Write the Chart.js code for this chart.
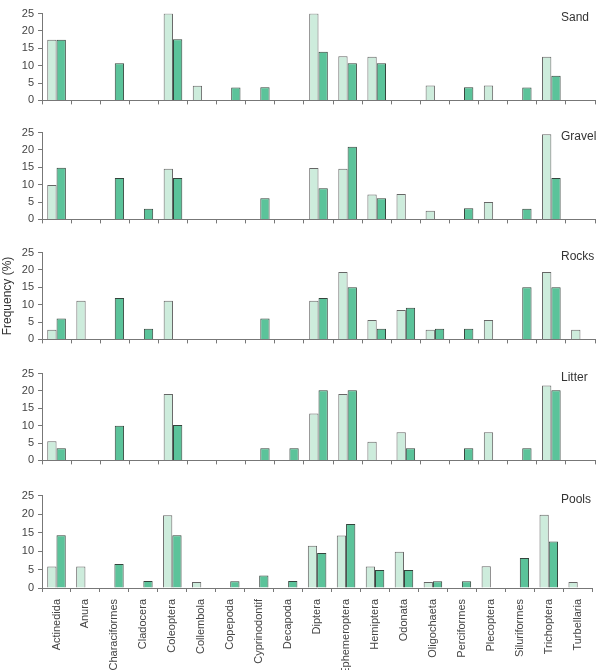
<!DOCTYPE html>
<html>
<head>
<meta charset="utf-8">
<script src="https://cdn.jsdelivr.net/npm/chart.js@4.4.1/dist/chart.umd.min.js"></script>
<style>
  body { margin: 0; background: #fff; }
  #wrap { position: relative; width: 598px; height: 670px; overflow: hidden; }
  .panel { position: absolute; left: 0; }
</style>
</head>
<body>
<div id="wrap"></div>
<script>
// Taxa on the x axis
const taxa = ['Actinedida', 'Anura', 'Characiformes', 'Cladocera', 'Coleoptera', 'Collembola',
  'Copepoda', 'Cyprinodontif', 'Decapoda', 'Diptera', 'Ephemeroptera', 'Hemiptera', 'Odonata',
  'Oligochaeta', 'Perciformes', 'Plecoptera', 'Siluriformes', 'Trichoptera', 'Turbellaria'];

const yTicks = [0, 5, 10, 15, 20, 25];
const habitats = ['Sand', 'Gravel', 'Rocks', 'Litter', 'Pools'];

// Frequency (%) per habitat, light and dark series
const sandLight   = [17.5, null, null, null, 25, 4.2, null, null, null, 25, 12.7, 12.6, null, 4.3, null, 4.3, null, 12.6, null];
const sandDark    = [17.5, null, 10.7, null, 17.6, null, 3.7, 3.8, null, 14, 10.7, 10.7, null, null, 3.8, null, 3.7, 7.1, null];
const gravelLight = [9.9, null, null, null, 14.6, null, null, null, null, 14.8, 14.6, 7.2, 7.3, 2.5, null, 5.0, null, 24.5, null];
const gravelDark  = [14.9, null, 11.9, 3.1, 11.9, null, null, 6.1, null, 9.0, 20.9, 6.1, null, null, 3.2, null, 3.1, 11.9, null];
const rocksLight  = [2.8, 11.1, null, null, 11.1, null, null, null, null, 11.1, 19.4, 5.6, 8.5, 2.8, null, 5.6, null, 19.4, 2.8];
const rocksDark   = [6.0, null, 11.9, 3.1, null, null, null, 6.0, null, 11.9, 15.0, 3.1, 9.1, 3.1, 3.1, null, 15.0, 15.0, null];
const litterLight = [5.5, null, null, null, 19.1, null, null, null, null, 13.5, 19.1, 5.4, 8.1, null, null, 8.1, null, 21.6, null];
const litterDark  = [3.5, null, 10.0, null, 10.2, null, null, 3.5, 3.5, 20.2, 20.2, null, 3.5, null, 3.5, null, 3.5, 20.2, null];
const poolsLight  = [5.8, 5.8, null, null, 19.7, 1.6, null, null, null, 11.4, 14.2, 5.8, 9.8, 1.6, null, 5.9, null, 19.8, 1.6];
const poolsDark   = [14.3, null, 6.5, 1.9, 14.3, null, 1.8, 3.4, 1.9, 9.5, 17.3, 4.9, 4.9, 1.8, 1.8, null, 8.1, 12.6, null];

const lightSeries = [sandLight, gravelLight, rocksLight, litterLight, poolsLight];
const darkSeries = [sandDark, gravelDark, rocksDark, litterDark, poolsDark];

const FONT = '"Liberation Sans", Arial, sans-serif';
const plotTops = [13, 132, 252, 373, 495];
const plotH = 93;
const padTop = 10;

// habitat name + shared y title
const panelLabel = {
    id: 'panelLabel',
    afterDraw(chart, args, opts) {
        const ctx = chart.ctx;
        ctx.save();
        ctx.fillStyle = '#333';
        ctx.font = '12px ' + FONT;
        ctx.textBaseline = 'middle';
        ctx.fillText(opts.text, 561, chart.chartArea.top + 4);
        if (opts.yTitle) {
            ctx.translate(8, (chart.chartArea.top + chart.chartArea.bottom) / 2);
            ctx.rotate(-Math.PI / 2);
            ctx.textAlign = 'center';
            ctx.fillText(opts.yTitle, 0, 0);
        }
        ctx.restore();
    }
};

const wrap = document.getElementById('wrap');

habitats.forEach((name, i) => {
    const last = i === habitats.length - 1;
    const xH = last ? 670 - (plotTops[i] + plotH) : 5;
    const div = document.createElement('div');
    div.className = 'panel';
    div.style.top = (plotTops[i] - padTop) + 'px';
    const canvas = document.createElement('canvas');
    canvas.width = 598;
    canvas.height = padTop + plotH + xH;
    div.appendChild(canvas);
    wrap.appendChild(div);

    new Chart(canvas.getContext('2d'), {
        type: 'bar',
        data: {
            labels: taxa,
            datasets: [{
                data: lightSeries[i],
                backgroundColor: '#cdecdc',
                borderColor: '#666',
                borderWidth: 1
            }, {
                data: darkSeries[i],
                backgroundColor: '#5bc39a',
                borderColor: '#34443c',
                borderWidth: 1
            }]
        },
        options: {
            responsive: false,
            animation: false,
            devicePixelRatio: 1,
            layout: { padding: { top: padTop, right: 3, left: 0, bottom: 0 } },
            datasets: { bar: { categoryPercentage: 0.64, barPercentage: 1.0 } },
            scales: {
                x: {
                    afterFit: s => { s.height = xH; },
                    border: { color: '#777' },
                    grid: { offset: true, drawOnChartArea: false, tickLength: 4, color: '#777' },
                    ticks: {
                        display: last,
                        autoSkip: false,
                        maxRotation: 90,
                        minRotation: 90,
                        padding: 7,
                        color: '#444',
                        font: { family: FONT, size: 11 }
                    }
                },
                y: {
                    min: 0,
                    max: 25,
                    afterFit: s => { s.width = 42; },
                    afterBuildTicks: s => { s.ticks = yTicks.map(v => ({ value: v })); },
                    border: { color: '#777' },
                    grid: { drawOnChartArea: false, tickLength: 4, color: '#777' },
                    ticks: { padding: 4, color: '#444', font: { family: FONT, size: 11 } }
                }
            },
            plugins: {
                legend: { display: false },
                tooltip: { enabled: false },
                panelLabel: { text: name, yTitle: i === 2 ? 'Frequency (%)' : null }
            }
        },
        plugins: [panelLabel]
    });
});
</script>
</body>
</html>
